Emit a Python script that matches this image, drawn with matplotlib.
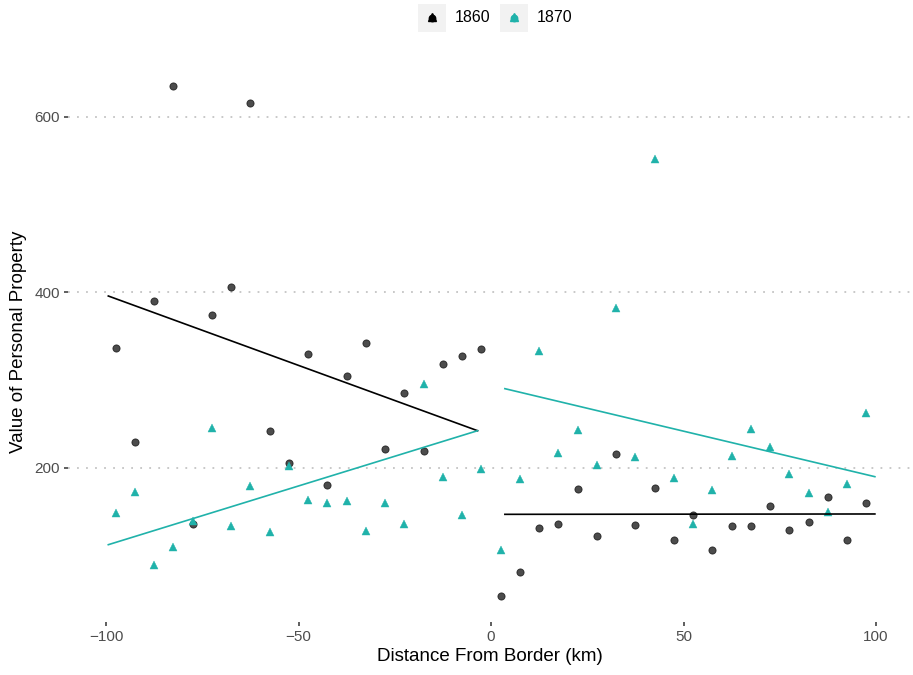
import matplotlib
matplotlib.use("Agg")
import matplotlib.pyplot as plt
from matplotlib.patches import Rectangle
from matplotlib.lines import Line2D

plt.rcParams['font.family'] = ['Liberation Sans', 'DejaVu Sans']

# ---- data ----
distance = [-97.5, -92.5, -87.5, -82.5, -77.5, -72.5, -67.5, -62.5, -57.5, -52.5,
            -47.5, -42.5, -37.5, -32.5, -27.5, -22.5, -17.5, -12.5, -7.5, -2.5,
            2.5, 7.5, 12.5, 17.5, 22.5, 27.5, 32.5, 37.5, 42.5, 47.5,
            52.5, 57.5, 62.5, 67.5, 72.5, 77.5, 82.5, 87.5, 92.5, 97.5]

value_1860 = [337, 230, 390, 635, 136, 374, 406, 616, 242, 206,
              330, 181, 305, 342, 222, 286, 219, 319, 328, 336,
              54, 82, 132, 136, 176, 123, 216, 135, 177, 118,
              146, 107, 134, 134, 157, 129, 139, 167, 118, 160]

value_1870 = [149, 173, 90, 110, 140, 246, 134, 179, 127, 202,
              163, 160, 162, 128, 160, 136, 296, 190, 146, 199,
              106, 187, 333, 217, 243, 203, 382, 212, 552, 189,
              136, 175, 214, 244, 224, 193, 172, 150, 182, 263]

years = ['1860', '1870']

# fitted regression lines (endpoints)
fit_x_left = [-99.4, -3.5]
fit_x_right = [3.6, 99.7]
fit_1860_left = [396, 242.5]
fit_1860_right = [147.2, 147.6]
fit_1870_left = [112.6, 242.5]
fit_1870_right = [290.4, 190.1]

x_ticks = [-100, -50, 0, 50, 100]
y_ticks = [200, 400, 600]

# ---- styling ----
col_1860 = 'black'
col_1870 = '#20B2AA'

W, H = 913, 675
fig = plt.figure(figsize=(W / 100, H / 100), dpi=100)
left_px, right_px = 67.5, 913
top_px, bottom_px = 61, 622
ax = fig.add_axes([left_px / W, 1 - bottom_px / H,
                   (right_px - left_px) / W, (bottom_px - top_px) / H])

ax.set_xlim(-110, 109.6)
ax.set_ylim(24.5, 663.8)

for s in ax.spines.values():
    s.set_visible(False)

ax.set_yticks(y_ticks)
ax.set_xticks(x_ticks)
ax.set_xticklabels([str(t).replace('-', '\u2212') for t in x_ticks])
ax.yaxis.grid(True, color='#c4c4c4', linestyle=(0, (1, 4)), linewidth=1.3)
ax.xaxis.grid(False)
ax.set_axisbelow(True)
ax.tick_params(axis='both', length=3, width=1.1, color='#333333',
               labelsize=11, labelcolor='#4d4d4d', pad=2.5)

# points
ax.plot(distance, value_1860, linestyle='none', marker='o', markersize=5.2,
        color=col_1860, alpha=0.7, markeredgewidth=0.6, zorder=3)
ax.plot(distance, value_1870, linestyle='none', marker='^', markersize=5.6,
        color=col_1870, markeredgewidth=0.3, zorder=3)

# regression lines
ax.plot(fit_x_left, fit_1860_left, color=col_1860, linewidth=1.2, zorder=4)
ax.plot(fit_x_right, fit_1860_right, color=col_1860, linewidth=1.2, zorder=4)
ax.plot(fit_x_left, fit_1870_left, color=col_1870, linewidth=1.2, zorder=4)
ax.plot(fit_x_right, fit_1870_right, color=col_1870, linewidth=1.2, zorder=4)

ax.set_xlabel('Distance From Border (km)', fontsize=13.5, color='black', labelpad=3)
ax.set_ylabel('Value of Personal Property', fontsize=13.5, color='black', labelpad=5)

# ---- legend (top, manual) ----
key_cols = [col_1860, col_1870]
key_x = [418, 500]
key_w, key_h = 28, 28
key_top = 4
for yr, kx, kc in zip(years, key_x, key_cols):
    fig.patches.append(Rectangle((kx / W, 1 - (key_top + key_h) / H), key_w / W, key_h / H,
                                 transform=fig.transFigure, facecolor='#f2f2f2',
                                 edgecolor='none'))
    cx, cy = (kx + key_w / 2) / W, 1 - (key_top + key_h / 2) / H
    fig.lines.append(Line2D([cx], [cy], transform=fig.transFigure, marker='o',
                            markersize=4.6, color=kc, linestyle='none'))
    fig.lines.append(Line2D([cx], [cy + 0.6 / H], transform=fig.transFigure, marker='^',
                            markersize=5.2, color=kc, linestyle='none'))
    fig.text((kx + key_w + 9) / W, cy, yr, fontsize=11.5, color='black',
             ha='left', va='center')

fig.savefig('out.png', dpi=100)
